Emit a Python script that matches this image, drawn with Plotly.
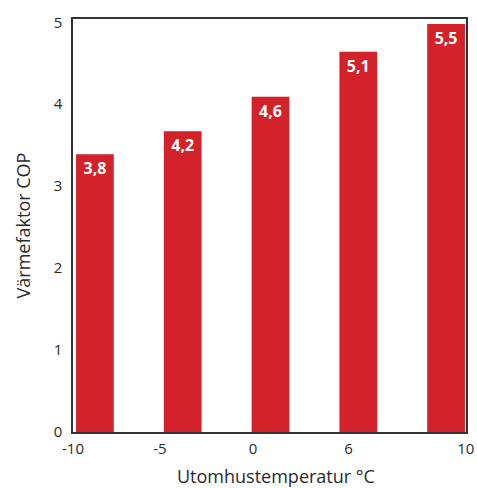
import plotly.graph_objects as go

# Data
temperatures = ["-10", "-5", "0", "6", "10"]
cop_heights = [3.39, 3.67, 4.09, 4.64, 4.98]
cop_labels = ["3,8", "4,2", "4,6", "5,1", "5,5"]

bar_index = list(range(len(cop_heights)))
tick_pos = [-0.25, 0.74, 1.80, 2.89, 4.225]

fig = go.Figure()
fig.add_trace(go.Bar(
    x=bar_index,
    y=cop_heights,
    width=0.43,
    marker=dict(color="#D3222A", line=dict(width=0)),
    text=cop_labels,
    textposition="inside",
    insidetextanchor="end",
    textangle=0,
    textfont=dict(family="Open Sans", size=16, color="white", weight="bold"),
    hoverinfo="skip",
))

axis_font = dict(family="Open Sans", size=15, color="#2a2a2a")
title_font = dict(family="Open Sans", size=18, color="#2a2a2a")

fig.update_layout(
    width=477, height=488,
    margin=dict(l=73, r=11, t=19, b=56),
    paper_bgcolor="white",
    plot_bgcolor="white",
    showlegend=False,
    xaxis=dict(
        range=[-0.25, 4.227],
        tickvals=tick_pos,
        ticktext=temperatures,
        showgrid=False, zeroline=False,
        showline=True, linecolor="#333333", linewidth=1.5, mirror=True,
        ticks="", tickfont=axis_font, automargin=False,
        ticklabelstandoff=2,
    ),
    yaxis=dict(
        range=[0, 5.04],
        tickvals=[0, 1, 2, 3, 4, 5],
        showgrid=False, zeroline=False,
        showline=True, linecolor="#333333", linewidth=1.5, mirror=True,
        ticks="", tickfont=axis_font, automargin=False,
        ticklabelstandoff=6,
        title=dict(text="Värmefaktor COP", font=title_font, standoff=18),
    ),
    annotations=[dict(
        text="Utomhustemperatur °C", font=title_font,
        xref="paper", yref="paper", x=0.517, y=0,
        xanchor="center", yanchor="middle", yshift=-44,
        showarrow=False,
    )],
)

fig.write_html(
    "out.html",
    config={"displayModeBar": False},
    post_script="document.body.style.margin='0';document.body.style.overflow='hidden';",
)
